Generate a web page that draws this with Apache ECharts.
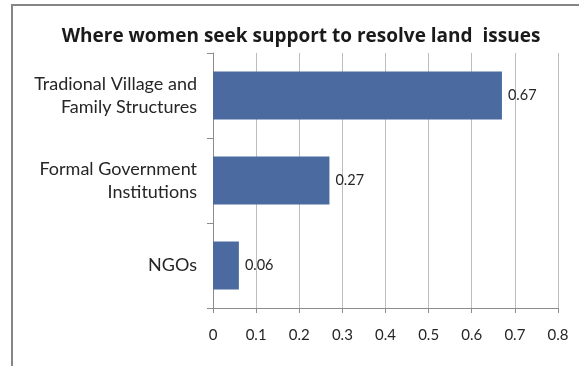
<!DOCTYPE html>
<html>
<head>
<meta charset="utf-8">
<script src="https://cdn.jsdelivr.net/npm/echarts@6/dist/echarts.min.js"></script>
<style>
  html, body { margin: 0; padding: 0; background: #fff; }
  #chart { width: 579px; height: 366px; }
</style>
</head>
<body>
<div id="chart"></div>
<script>
// Where women turn for help with land disputes (share of respondents)
const categories = [
  'Tradional Village and\nFamily Structures',
  'Formal Government\nInstitutions',
  'NGOs'
];
const shares = [0.67, 0.27, 0.06];
const axisTicks = [0, 0.1, 0.2, 0.3, 0.4, 0.5, 0.6, 0.7, 0.8];
const chartTitle = 'Where women seek support to resolve land  issues';

const FONT = 'Lato, "Liberation Sans", sans-serif';
const chart = echarts.init(document.getElementById('chart'), null, { renderer: 'canvas' });

chart.setOption({
  animation: false,
  backgroundColor: '#ffffff',
  title: {
    text: chartTitle,
    left: 296,
    top: 22,
    textAlign: 'center',
    textStyle: { fontFamily: '"Open Sans", Lato, sans-serif', fontSize: 19, fontWeight: 'bold', color: '#1a1a1a' }
  },
  graphic: [{
    type: 'rect',
    shape: { x: 12, y: 5, width: 620, height: 420 },
    style: { fill: 'none', stroke: '#868686', lineWidth: 2 },
    silent: true,
    z: -1
  }],
  grid: { left: 213, right: 21, top: 53, bottom: 58, containLabel: false },
  xAxis: {
    type: 'value',
    min: axisTicks[0],
    max: axisTicks[axisTicks.length - 1],
    interval: 0.1,
    axisLine: { show: true, lineStyle: { color: '#8c8c8c', width: 1 } },
    axisTick: { show: true, length: 5, lineStyle: { color: '#8c8c8c' } },
    splitLine: { show: true, lineStyle: { color: '#bdbdbd', width: 1 } },
    axisLabel: {
      margin: 20,
      fontFamily: FONT, fontSize: 15, color: '#262626',
      formatter: v => String(Math.round(v * 10) / 10)
    }
  },
  yAxis: {
    type: 'category',
    inverse: true,
    data: categories,
    axisLine: { show: true, lineStyle: { color: '#8c8c8c', width: 1 } },
    axisTick: { show: true, length: 6, alignWithLabel: false, lineStyle: { color: '#8c8c8c' } },
    splitLine: { show: false },
    axisLabel: {
      margin: 16,
      align: 'right',
      fontFamily: FONT, fontSize: 18, lineHeight: 23, color: '#262626'
    }
  },
  series: [{
    type: 'bar',
    data: shares,
    barWidth: 48,
    itemStyle: { color: '#4b6a9f' },
    label: {
      show: true,
      position: 'right',
      distance: 6,
      fontFamily: FONT, fontSize: 14.5, color: '#262626',
      formatter: p => String(p.value)
    }
  }]
});
</script>
</body>
</html>
